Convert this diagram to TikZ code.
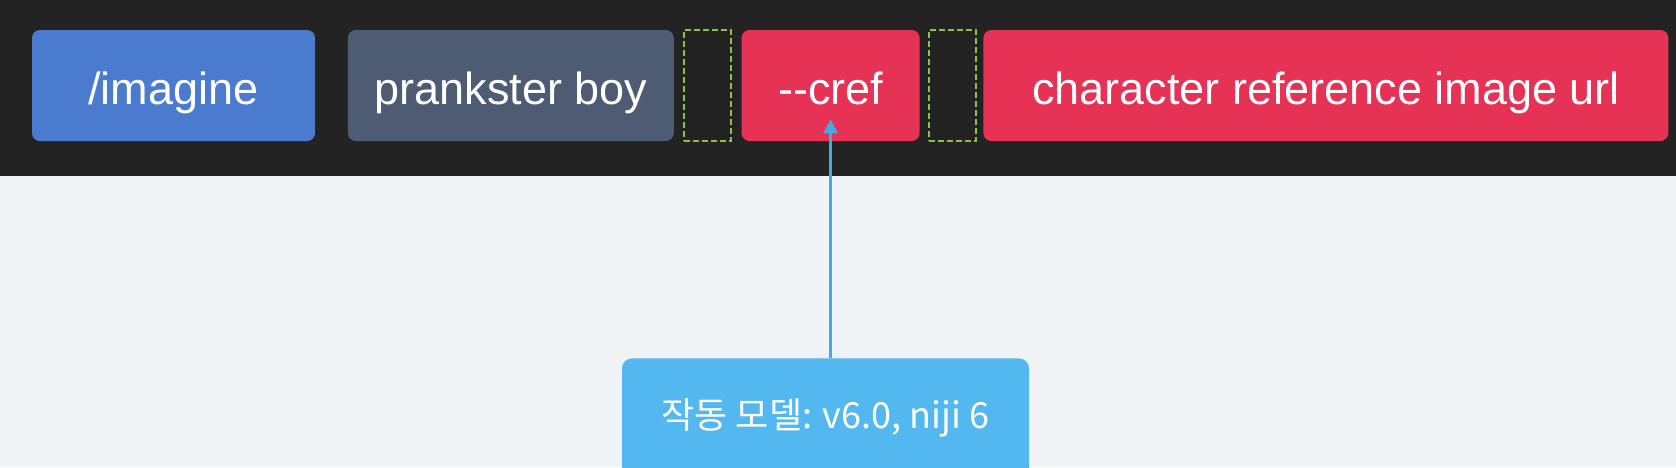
\documentclass[tikz,border=0pt]{standalone}
\usepackage{fontspec}
\setmainfont{Liberation Sans}
\newfontfamily\krfont{Noto Sans CJK KR}
\usepackage{tikz}
\usepackage{xcolor}
\usetikzlibrary{arrows.meta, positioning}
\definecolor{cBand}{RGB}{35,35,36}
\definecolor{cPage}{RGB}{240,243,245}
\definecolor{cBlue}{RGB}{74,123,207}
\definecolor{cSlate}{RGB}{78,92,115}
\definecolor{cRed}{RGB}{230,50,85}
\definecolor{cLime}{RGB}{139,195,74}
\definecolor{cSky}{RGB}{64,170,225}
\definecolor{cNote}{RGB}{84,184,240}
\tikzset{
	token/.style   ={rectangle, rounded corners=4pt, minimum height=55.5pt, text centered, align=center, text=white, font=\fontsize{22.5}{26}\selectfont, text height=19pt, text depth=0.5pt, inner sep=0pt},
	spacebox/.style={rectangle, draw=cLime, line width=1pt, dash pattern=on 3pt off 1.5pt, minimum width=23.5pt, minimum height=55.5pt, inner sep=0pt},
	notebox/.style ={rectangle, rounded corners=5pt, fill=cNote, text=white, minimum width=203.5pt, minimum height=60pt, inner sep=0pt, font=\krfont\fontsize{18}{22}\selectfont},
	pointer/.style ={-{Triangle[length=7pt, width=7pt]}, line width=1.5pt, cSky},
}
\begin{document}
\begin{tikzpicture}[x=0.5pt, y=0.5pt]
	% background
	\fill[cPage] (0,0) rectangle (1676,-467);
	\fill[cBand] (0,0) rectangle (1676,-176);
	\useasboundingbox (0,0) rectangle (1676,-467);
	\clip (0,0) rectangle (1676,-467);
	% prompt tokens
	\node[token, minimum width=141.5pt, fill=cBlue] (cmd) at (173.5,-85.5) {/imagine};
	\node[token, right=16pt of cmd, minimum width=163pt, fill=cSlate] (prompt) {prankster boy};
	\node[spacebox, right=4.5pt of prompt] (sp1) {};
	\node[token, right=4.5pt of sp1, minimum width=89pt, fill=cRed] (cref) {-{}-cref};
	\node[spacebox, right=4pt of cref] (sp2) {};
	\node[token, right=3pt of sp2, minimum width=342.5pt, fill=cRed] (url) {character reference image url};
	% note
	\node[notebox, anchor=north] (note) at (825.5,-358) {작동 모델: v6.0, niji 6};
	\coordinate (tip) at ([yshift=11pt]cref.south);
	\draw[pointer] (note.north -| tip) -- (tip);
\end{tikzpicture}
\end{document}
